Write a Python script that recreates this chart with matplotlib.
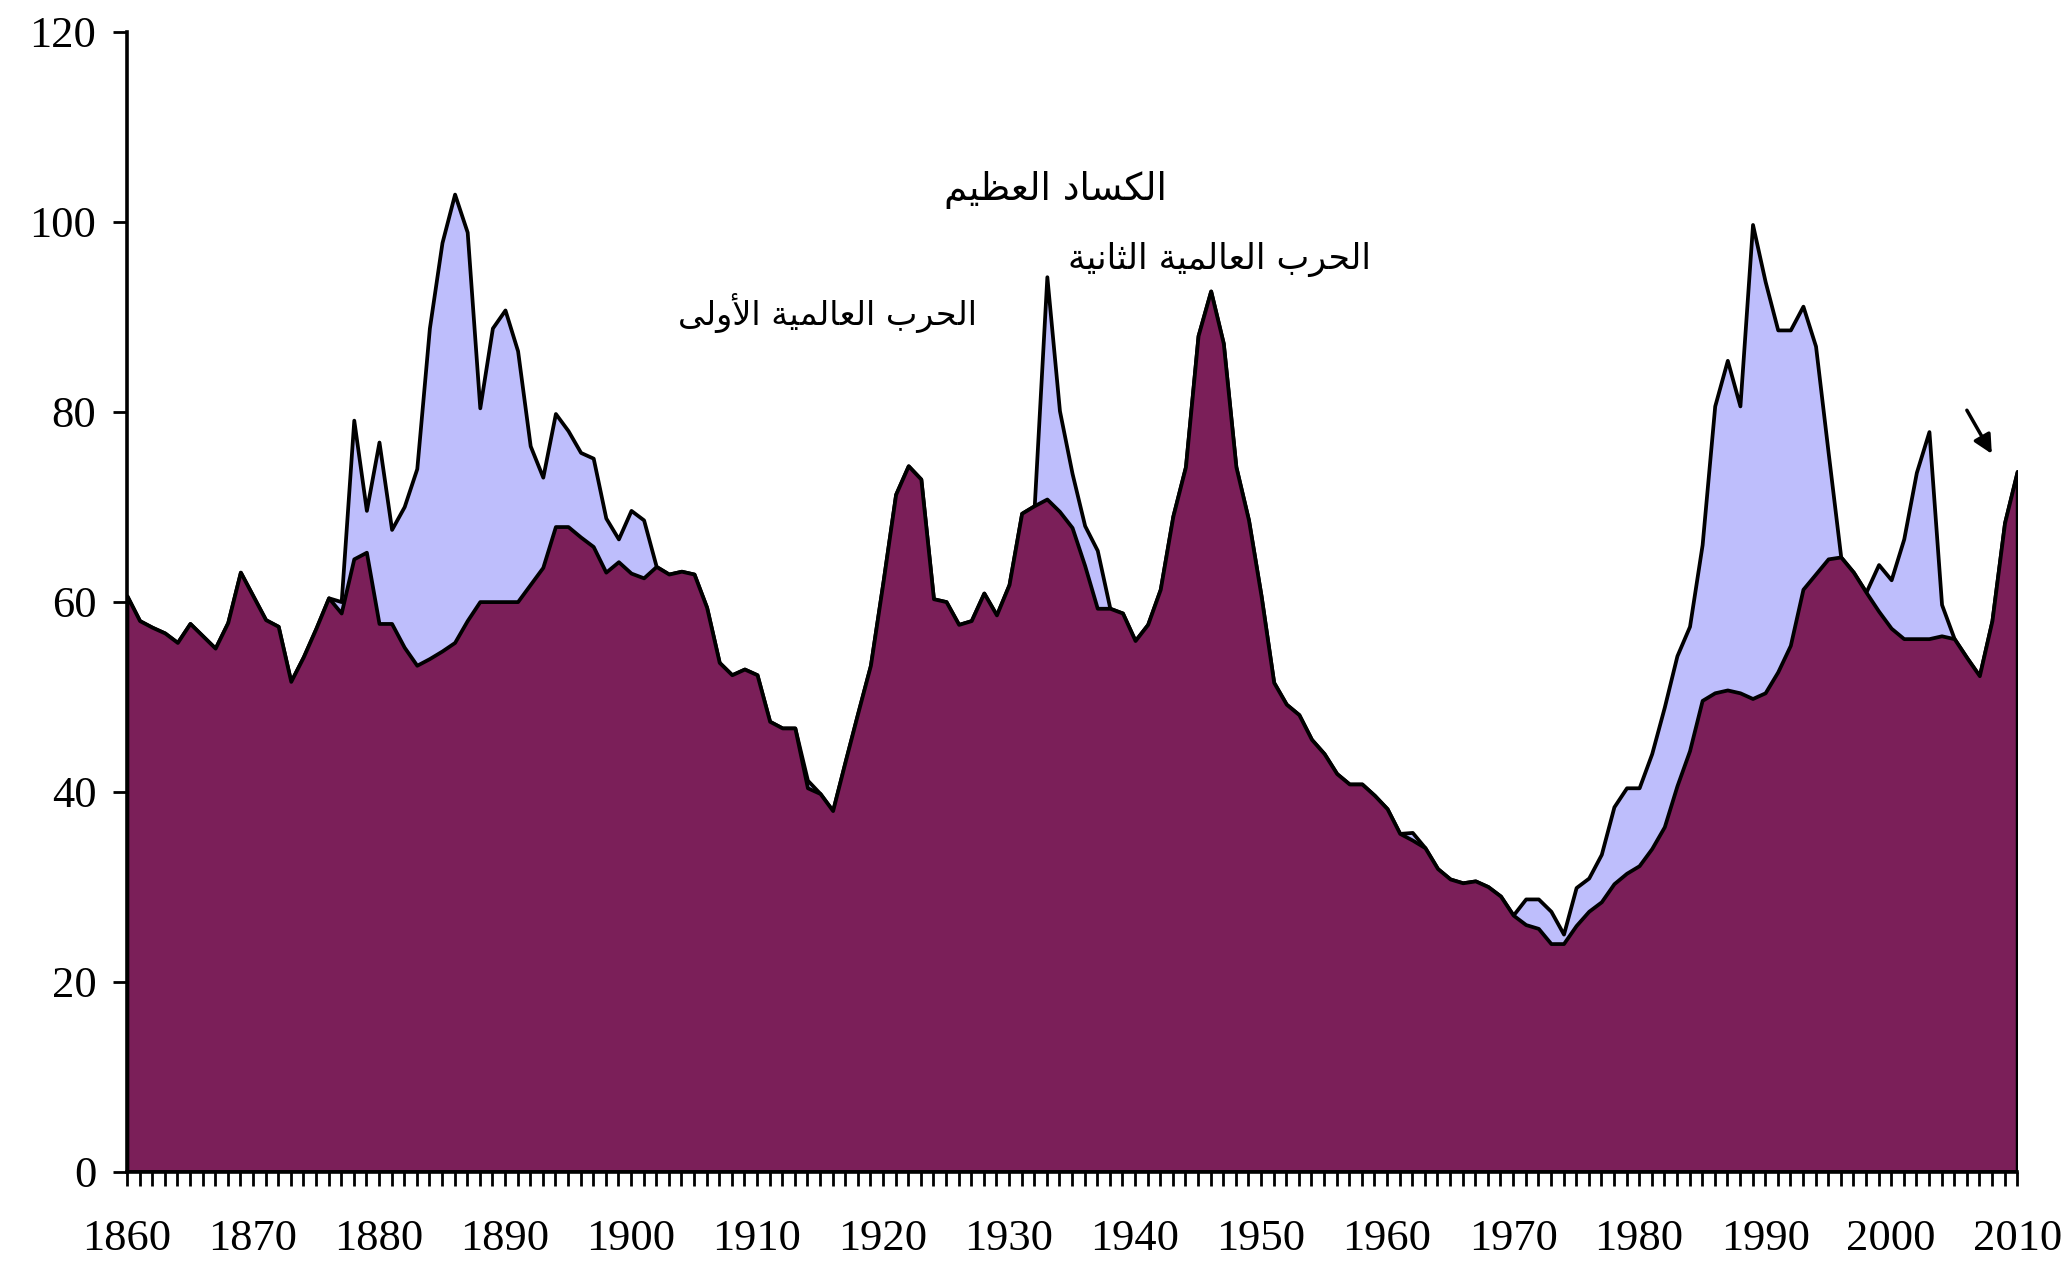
import matplotlib
matplotlib.use("Agg")
import matplotlib.pyplot as plt

# ---------------- data ----------------
years = list(range(1860, 2011))

lower = [
    60.6, 58.0, 57.3, 56.7, 55.7, 57.7, 56.4, 55.1, 57.8, 63.1,   # 1860-1869
    60.6, 58.1, 57.4, 51.6, 54.2, 57.2, 60.4, 58.8, 64.5, 65.2,   # 1870-1879
    57.7, 57.7, 55.2, 53.3, 54.0, 54.8, 55.7, 58.0, 60.0, 60.0,   # 1880-1889
    60.0, 60.0, 61.8, 63.6, 67.9, 67.9, 66.8, 65.8, 63.1, 64.2,   # 1890-1899
    63.0, 62.5, 63.7, 62.9, 63.2, 62.9, 59.4, 53.6, 52.3, 52.9,   # 1900-1909
    52.3, 47.4, 46.7, 46.7, 40.4, 39.8, 38.0, 43.2, 48.3, 53.3,   # 1910-1919
    62.1, 71.3, 74.3, 72.9, 60.3, 60.0, 57.6, 58.0, 60.9, 58.6,   # 1920-1929
    61.8, 69.3, 70.1, 70.8, 69.5, 67.8, 63.8, 59.3, 59.3, 58.8,   # 1930-1939
    55.9, 57.6, 61.3, 69.0, 74.2, 88.0, 92.7, 87.2, 74.2, 68.6,   # 1940-1949
    60.6, 51.5, 49.2, 48.1, 45.5, 44.0, 41.9, 40.8, 40.8, 39.6,   # 1950-1959
    38.2, 35.6, 34.9, 34.1, 31.9, 30.8, 30.4, 30.6, 30.0, 29.0,   # 1960-1969
    27.0, 26.0, 25.6, 24.0, 24.0, 25.9, 27.4, 28.4, 30.3, 31.4,   # 1970-1979
    32.2, 34.0, 36.3, 40.6, 44.3, 49.6, 50.4, 50.7, 50.4, 49.8,   # 1980-1989
    50.4, 52.6, 55.4, 61.3, 62.9, 64.5, 64.7, 63.1, 61.0, 59.0,   # 1990-1999
    57.2, 56.1, 56.1, 56.1, 56.4, 56.1, 54.1, 52.2, 58.0, 68.3,   # 2000-2009
    73.7,                                                         # 2010
]

upper = [
    60.6, 58.0, 57.3, 56.7, 55.7, 57.7, 56.4, 55.1, 57.8, 63.1,   # 1860-1869
    60.6, 58.1, 57.4, 51.6, 54.2, 57.2, 60.4, 60.0, 79.1, 69.6,   # 1870-1879
    76.8, 67.6, 70.0, 74.0, 88.8, 97.8, 102.9, 98.9, 80.4, 88.8,  # 1880-1889
    90.7, 86.4, 76.4, 73.1, 79.8, 78.0, 75.7, 75.1, 68.8, 66.6,   # 1890-1899
    69.6, 68.6, 63.7, 62.9, 63.2, 62.9, 59.4, 53.6, 52.3, 52.9,   # 1900-1909
    52.3, 47.4, 46.7, 46.7, 41.2, 39.8, 38.0, 43.2, 48.3, 53.3,   # 1910-1919
    62.1, 71.3, 74.3, 72.9, 60.3, 60.0, 57.6, 58.0, 60.9, 58.6,   # 1920-1929
    61.8, 69.3, 70.1, 94.2, 80.1, 73.5, 68.0, 65.4, 59.3, 58.8,   # 1930-1939
    55.9, 57.6, 61.3, 69.0, 74.2, 88.0, 92.7, 87.2, 74.2, 68.6,   # 1940-1949
    60.6, 51.5, 49.2, 48.1, 45.5, 44.0, 41.9, 40.8, 40.8, 39.6,   # 1950-1959
    38.2, 35.6, 35.7, 34.1, 31.9, 30.8, 30.4, 30.6, 30.0, 29.0,   # 1960-1969
    27.0, 28.7, 28.7, 27.4, 25.0, 29.9, 30.9, 33.4, 38.4, 40.4,   # 1970-1979
    40.4, 44.0, 48.9, 54.3, 57.4, 66.0, 80.6, 85.4, 80.6, 99.7,   # 1980-1989
    93.7, 88.6, 88.6, 91.1, 86.9, 75.7, 64.7, 63.1, 61.0, 63.9,   # 1990-1999
    62.3, 66.6, 73.6, 77.9, 59.7, 56.1, 54.1, 52.2, 58.0, 68.3,   # 2000-2009
    73.7,                                                         # 2010
]

decade_ticks = [1860, 1870, 1880, 1890, 1900, 1910, 1920, 1930, 1940,
                1950, 1960, 1970, 1980, 1990, 2000, 2010]
y_ticks = [0, 20, 40, 60, 80, 100, 120]

labels_ar = ["الكساد العظيم", "الحرب العالمية الثانية", "الحرب العالمية الأولى"]
label_x = [1933.7, 1946.7, 1915.6]
label_y = [103.3, 96.0, 90.4]
label_size = [27, 25, 24]

# ---------------- minimal Arabic shaping ----------------
FORMS = {
    'ا': ('\uFE8D', '\uFE8E', None, None),
    'أ': ('\uFE83', '\uFE84', None, None),
    'ب': ('\uFE8F', '\uFE90', '\uFE91', '\uFE92'),
    'ة': ('\uFE93', '\uFE94', None, None),
    'ث': ('\uFE99', '\uFE9A', '\uFE9B', '\uFE9C'),
    'ح': ('\uFEA1', '\uFEA2', '\uFEA3', '\uFEA4'),
    'د': ('\uFEA9', '\uFEAA', None, None),
    'ر': ('\uFEAD', '\uFEAE', None, None),
    'س': ('\uFEB1', '\uFEB2', '\uFEB3', '\uFEB4'),
    'ظ': ('\uFEC5', '\uFEC6', '\uFEC7', '\uFEC8'),
    'ع': ('\uFEC9', '\uFECA', '\uFECB', '\uFECC'),
    'ك': ('\uFED9', '\uFEDA', '\uFEDB', '\uFEDC'),
    'ل': ('\uFEDD', '\uFEDE', '\uFEDF', '\uFEE0'),
    'م': ('\uFEE1', '\uFEE2', '\uFEE3', '\uFEE4'),
    'ن': ('\uFEE5', '\uFEE6', '\uFEE7', '\uFEE8'),
    'و': ('\uFEED', '\uFEEE', None, None),
    'ى': ('\uFEEF', '\uFEF0', None, None),
    'ي': ('\uFEF1', '\uFEF2', '\uFEF3', '\uFEF4'),
}
LAM_ALEF = {'ا': ('\uFEFB', '\uFEFC'), 'أ': ('\uFEF7', '\uFEF8')}


def shape_arabic(text):
    toks = []
    i = 0
    while i < len(text):
        c = text[i]
        if c == 'ل' and i + 1 < len(text) and text[i + 1] in LAM_ALEF:
            toks.append(('LA', text[i + 1]))
            i += 2
        else:
            toks.append(('C', c))
            i += 1

    def dual(t):
        return t[0] == 'C' and t[1] in FORMS and FORMS[t[1]][2] is not None

    def letter(t):
        return t[0] == 'LA' or t[1] in FORMS

    out = []
    for k, t in enumerate(toks):
        prev = toks[k - 1] if k > 0 else None
        nxt = toks[k + 1] if k + 1 < len(toks) else None
        jp = prev is not None and dual(prev) and letter(t)
        if t[0] == 'LA':
            out.append(LAM_ALEF[t[1]][1 if jp else 0])
            continue
        c = t[1]
        if c not in FORMS:
            out.append(c)
            continue
        jn = dual(t) and nxt is not None and letter(nxt)
        iso, fin, ini, med = FORMS[c]
        if jp and jn:
            out.append(med)
        elif jp:
            out.append(fin)
        elif jn:
            out.append(ini)
        else:
            out.append(iso)
    return ''.join(out)[::-1]


# ---------------- plot ----------------
PURPLE = '#7B1F59'
LAVENDER = '#BEBEFC'

fig = plt.figure(figsize=(20.71, 12.66), dpi=100)
ax = fig.add_axes([0.0613, 0.0746, 0.9127, 0.9004])

ax.fill_between(years, 0, upper, facecolor=LAVENDER, edgecolor='black',
                linewidth=2.7, zorder=2)
ax.fill_between(years, 0, lower, facecolor=PURPLE, edgecolor='black',
                linewidth=2.7, zorder=3)

ax.set_xlim(1860, 2010)
ax.set_ylim(0, 120)

for s in ['top', 'right']:
    ax.spines[s].set_visible(False)
for s in ['left', 'bottom']:
    ax.spines[s].set_linewidth(2.6)
    ax.spines[s].set_zorder(5)

serif = ['Liberation Serif', 'DejaVu Serif']
ax.set_xticks(decade_ticks)
ax.set_xticklabels([str(v) for v in decade_ticks], fontfamily=serif, fontsize=32)
ax.set_xticks(years, minor=True)
ax.set_yticks(y_ticks)
ax.set_yticklabels([str(v) for v in y_ticks], fontfamily=serif, fontsize=32)

ax.tick_params(axis='x', which='both', direction='out', length=10, width=2.0, pad=24)
ax.tick_params(axis='y', which='both', direction='out', length=10, width=2.0, pad=12)

for txt, x, y, fs in zip(labels_ar, label_x, label_y, label_size):
    ax.text(x, y, shape_arabic(txt), ha='center', va='center', fontsize=fs,
            fontfamily=['DejaVu Sans'], color='black', zorder=6)

ax.annotate('', xy=(2008.1, 75.3), xytext=(2005.9, 80.4),
            arrowprops=dict(arrowstyle='-|>', color='black', lw=2.5,
                            mutation_scale=28), zorder=6)

fig.savefig('out.png', dpi=100)
